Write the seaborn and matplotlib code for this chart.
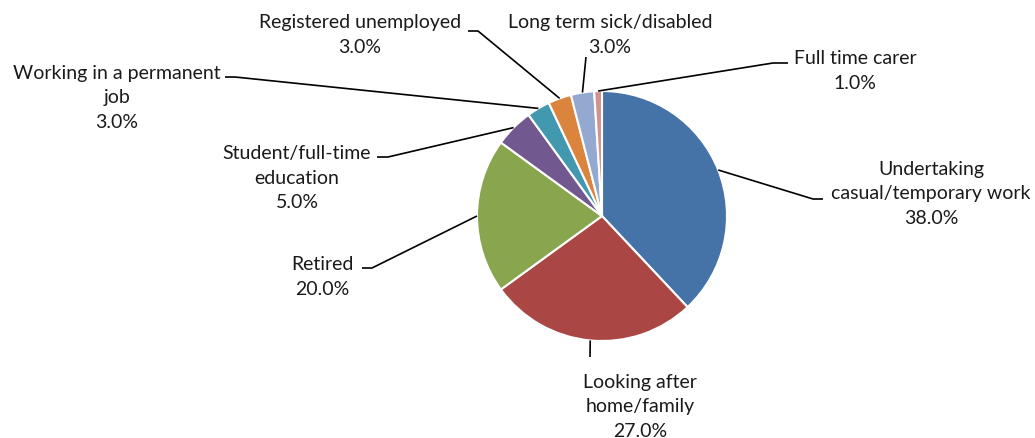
import numpy as np
import matplotlib
matplotlib.use("Agg")
import matplotlib.pyplot as plt
import seaborn as sns

sns.set_theme(style="white")
plt.rcParams['font.family'] = ['Lato', 'DejaVu Sans']

categories = ["Undertaking\ncasual/temporary work", "Looking after\nhome/family", "Retired",
              "Student/full-time\neducation", "Working in a permanent\njob",
              "Registered unemployed", "Long term sick/disabled", "Full time carer"]
values = [38.0, 27.0, 20.0, 5.0, 3.0, 3.0, 3.0, 1.0]
colors = ["#4572A7", "#AA4643", "#89A54E", "#71588F", "#4198AF", "#DB843D", "#93A9CF", "#D19392"]

W, H = 1035, 439
# layout (pixel coords, y from top)
center_px = (602, 217)
radius = 125
label_pos = [(931, 194), (640, 407), (322, 277), (297, 178), (117, 98), (360, 35), (610, 35), (855, 71)]
leader_pts = [[(813, 200), (823, 200)],
              [(590, 358)],
              [(372, 269), (362, 269)],
              [(388, 158), (377, 158)],
              [(235, 78), (225, 78)],
              [(478, 32), (468, 32)],
              [(586, 58)],
              [(773, 64), (788, 64)]]

fig = plt.figure(figsize=(W / 100, H / 100), dpi=100)
ax = fig.add_axes([0, 0, 1, 1])
cx, cy = center_px[0], H - center_px[1]
wedges, _ = ax.pie(values, colors=colors, startangle=90, counterclock=False,
                   center=(cx, cy), radius=radius, frame=True,
                   wedgeprops=dict(edgecolor="white", linewidth=1.5))
ax.set_xlim(0, W)
ax.set_ylim(0, H)
ax.set_aspect('equal')
ax.axis('off')

total = sum(values)
cum = 0.0
for i, (cat, v) in enumerate(zip(categories, values)):
    mid = 90 - (cum + v / 2) / total * 360
    cum += v
    sx = cx + radius * np.cos(np.radians(mid))
    sy = cy + radius * np.sin(np.radians(mid))
    xs = [sx] + [p[0] for p in leader_pts[i]]
    ys = [sy] + [H - p[1] for p in leader_pts[i]]
    ax.plot(xs, ys, color="black", lw=1.2, solid_capstyle='butt')
    lx, ly = label_pos[i]
    ax.text(lx, H - ly, f"{cat}\n{v:.1f}%", ha="center", va="center",
            multialignment="center", fontsize=14, linespacing=1.55, color="#1a1a1a")

fig.savefig("out.png", dpi=100, facecolor="white")
